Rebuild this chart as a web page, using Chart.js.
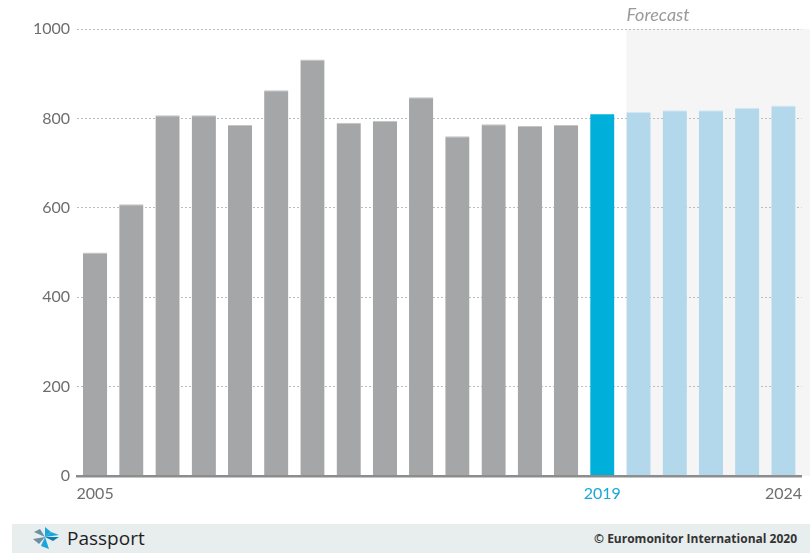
<!DOCTYPE html>
<html>
<head>
<meta charset="utf-8">
<script src="https://cdn.jsdelivr.net/npm/chart.js@4.4.1/dist/chart.umd.min.js"></script>
<style>
  html, body { margin: 0; padding: 0; background: #fff; }
  body { width: 810px; height: 553px; position: relative; overflow: hidden; font-family: Lato, "Open Sans", sans-serif; }
  #wrap { position: absolute; left: 0; top: 0; width: 810px; height: 515px; }
  #forecast { position: absolute; top: 3px; left: 630px; font-size: 18px; font-style: italic; color: #9a9a9a; }
  #footer { position: absolute; left: 12px; top: 524px; width: 798px; height: 29px; background: #e8eded; }
  #footer .brand { position: absolute; left: 17px; top: 1px; display: flex; align-items: center; font-size: 19px; color: #1f1f1f; font-family: "Open Sans", sans-serif; font-weight: 500; }
  #footer .brand svg { margin-right: 6px; }
  #footer .copy { position: absolute; right: 13px; top: 6px; font-size: 12px; font-weight: bold; color: #333; font-family: "Open Sans", sans-serif; }
</style>
</head>
<body>
<div id="wrap"><canvas id="chart"></canvas></div>
<div id="forecast">Forecast</div>
<div id="footer">
  <div class="brand">
    <svg width="32" height="24" viewBox="0 0 32 24">
      <polygon points="16,1 22,6 16,11" fill="#1aa6dc"/>
      <polygon points="16,11 30,9 22,6" fill="#1aa6dc"/>
      <polygon points="16,11 24,15 30,11" fill="#0c7fb2"/>
      <polygon points="16,11 20,23 12,20" fill="#1aa6dc"/>
      <polygon points="16,11 10,18 4,13" fill="#6b8fa3"/>
      <polygon points="16,11 5,6 11,3" fill="#6b8fa3"/>
    </svg>
    <span>Passport</span>
  </div>
  <div class="copy">© Euromonitor International 2020</div>
</div>
<script>
const years = ["2005", "2006", "2007", "2008", "2009", "2010", "2011", "2012", "2013", "2014",
  "2015", "2016", "2017", "2018", "2019", "2020", "2021", "2022", "2023", "2024"];
const values = [500, 608, 807, 807, 785, 863, 932, 790, 794, 847,
  760, 787, 783, 785, 810, 814, 818, 818, 824, 829];
const shownLabels = ["2005", "2019", "2024"];
const currentYear = "2019";

const GREY = "#a5a6a8";
const BLUE = "#00b0db";
const LIGHT = "#b3d8eb";

const curIdx = years.indexOf(currentYear);
const barColors = years.map((y, i) => i < curIdx ? GREY : (i === curIdx ? BLUE : LIGHT));
const topColors = years.map((y, i) => i < curIdx ? "#c4c5c7" : (i === curIdx ? "#3fc4e6" : "#d3e8f3"));

// grey band behind forecast years + place the "Forecast" text
const forecastBand = {
  id: "forecastBand",
  beforeDraw(chart) {
    const meta = chart.getDatasetMeta(0);
    const bar = meta.data[curIdx + 1];
    if (!bar) return;
    const {ctx, chartArea, scales} = chart;
    const x0 = bar.x - bar.width / 2;
    const top = scales.y.getPixelForValue(1000);
    ctx.save();
    ctx.fillStyle = "#f5f5f5";
    ctx.fillRect(x0, top, chart.width - x0, chartArea.bottom - top);
    ctx.restore();
    document.getElementById("forecast").style.left = x0 + "px";
  }
};

new Chart(document.getElementById("chart"), {
  type: "bar",
  data: {
    labels: years,
    datasets: [{
      data: values,
      backgroundColor: barColors,
      borderColor: topColors,
      borderWidth: {top: 1, left: 0, right: 0, bottom: 0},
      borderSkipped: "bottom",
      barPercentage: 0.67,
      categoryPercentage: 1
    }]
  },
  options: {
    responsive: true,
    maintainAspectRatio: false,
    animation: false,
    layout: {padding: {left: 33, right: 0, top: 29, bottom: 4}},
    plugins: {legend: {display: false}, tooltip: {enabled: false}},
    scales: {
      x: {
        grid: {display: false, drawTicks: false},
        border: {display: true, color: "#8c8c8c", width: 2.5},
        ticks: {
          autoSkip: false,
          maxRotation: 0,
          minRotation: 0,
          padding: 8,
          font: {family: "Lato", size: 16},
          color: (c) => years[c.index] === currentYear ? "#19a8d6" : "#6e6e6e",
          callback: function (v, i) {
            return shownLabels.includes(years[i]) ? years[i] : "";
          }
        }
      },
      y: {
        min: 0,
        max: 1000,
        ticks: {
          stepSize: 200, padding: 7, color: "#6e6e6e", font: {family: "Lato", size: 16},
          callback: (v) => String(v)
        },
        afterFit: (s) => { s.width = 44; },
        grid: {color: "#bdbdbd", lineWidth: 1, drawTicks: false},
        border: {display: false, dash: [2, 2]}
      }
    }
  },
  plugins: [forecastBand]
});
</script>
</body>
</html>
